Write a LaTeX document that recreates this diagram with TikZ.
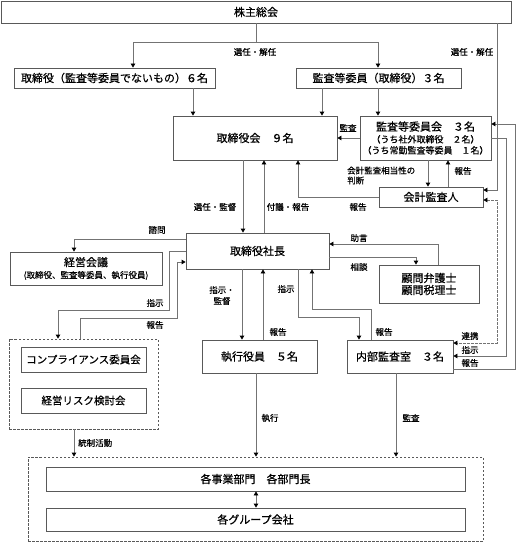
\documentclass[tikz,border=0pt]{standalone}
\usepackage{fontspec}
\newfontfamily\jp[RawFeature={embolden=0.6}]{Noto Sans CJK JP}
\usetikzlibrary{arrows.meta}
\begin{document}
\begin{tikzpicture}[x=1pt,y=-1pt,
  box/.style={draw=black!65,line width=0.8pt,inner sep=0pt,font=\jp\fontsize{11}{13}\selectfont,align=center,text=black},
  dbox/.style={draw=black!65,line width=0.8pt,dashed,dash pattern=on 2.5pt off 1.5pt,inner sep=0pt},
  lbl/.style={font=\jp\fontsize{8.5}{10}\selectfont,inner sep=0pt,text=black},
  ln/.style={draw=black!55,line width=0.8pt},
  arr/.style={ln,-{Triangle[length=4pt,width=4.5pt,color=black]}},
  darr/.style={ln,{Triangle[length=4pt,width=4.5pt,color=black]}-{Triangle[length=4pt,width=4.5pt,color=black]}},
]
\useasboundingbox (0,0) rectangle (516,543);
% boxes
\node[box,minimum width=510pt,minimum height=22pt] (kabu) at (256,12) {株主総会};
\node[box,minimum width=201pt,minimum height=20pt] (tori6) at (114.5,78) {取締役（監査等委員でないもの）６名};
\node[box,minimum width=165pt,minimum height=20pt] (kansa3) at (378.5,78) {監査等委員（取締役）３名};
\node[box,minimum width=164pt,minimum height=44pt] (torikai) at (255,138) {取締役会　９名};
\node[box,minimum width=131pt,minimum height=44pt] (iinkai) at (425.5,138) {監査等委員会　３名\\[-1pt]{\fontsize{9}{11}\selectfont （うち社外取締役　２名）}\\[-2pt]{\fontsize{9}{11}\selectfont （うち常勤監査等委員　１名）}};
\node[box,minimum width=104pt,minimum height=20pt] (kaikei) at (431,197) {会計監査人};
\node[box,minimum width=143pt,minimum height=36pt] (shacho) at (257.5,251) {取締役社長};
\node[box,minimum width=152pt,minimum height=33pt] (keiei) at (86,268.5) {経営会議\\[-1pt]{\fontsize{8.5}{10}\selectfont (取締役、監査等委員、執行役員)}};
\node[box,minimum width=100pt,minimum height=38pt] (komon) at (429,284) {顧問弁護士\\[-1pt]顧問税理士};
\node[dbox,minimum width=149pt,minimum height=90pt] (grp) at (83.5,384) {};
\node[box,minimum width=125pt,minimum height=25pt,font=\jp\fontsize{10.5}{12}\selectfont] (comp) at (83.5,359.5) {コンプライアンス委員会};
\node[box,minimum width=125pt,minimum height=25pt,font=\jp\fontsize{10.5}{12}\selectfont] (risk) at (83.5,400.5) {経営リスク検討会};
\node[box,minimum width=115pt,minimum height=33pt] (shikko) at (259.5,356.5) {執行役員　５名};
\node[box,minimum width=106pt,minimum height=33pt] (naibu) at (400,356.5) {内部監査室　３名};
\node[dbox,minimum width=455pt,minimum height=84pt] (big) at (255.5,499) {};
\node[box,minimum width=419pt,minimum height=24pt] (jigyo) at (255.5,479) {各事業部門　各部門長};
\node[box,minimum width=419pt,minimum height=23pt] (group) at (255.5,519.5) {各グループ会社};
% shareholders
\draw[ln] (kabu.south) -- ++(0,19) coordinate (kj);
\draw[arr] (kj) -| (133,0 |- tori6.north);
\draw[arr] (kj) -| (378,0 |- kansa3.north);
\node[lbl] (l1) at (255,52) {選任・解任};
\draw[arr] (497,0 |- kabu.south) |- ([yshift=7pt]kaikei.east);
\node[lbl] (l2) at (472,52) {選任・解任};
% to board
\draw[arr] (193,0 |- tori6.south) -- (193,0 |- torikai.north);
\draw[arr] (322,0 |- kansa3.south) -- (322,0 |- torikai.north);
\draw[arr] (378,0 |- kansa3.south) -- (378,0 |- iinkai.north);
\draw[arr] (iinkai.west) -- (torikai.east);
\node[lbl] (l3) at (348,128) {監査};
% audit committee <-> accounting auditor
\draw[arr] (428,0 |- iinkai.south) -- (428,0 |- kaikei.north);
\draw[arr] (448,0 |- kaikei.north) -- (448,0 |- iinkai.south);
\node[lbl,align=left,anchor=west] (l4) at (347,175.5) {会計監査相当性の\\判断};
\node[lbl] (l5) at (463,171) {報告};
\draw[arr] (kaikei.west) -| (298,0 |- torikai.south);
\node[lbl] (l6) at (358,207) {報告};
% board <-> president
\draw[arr] (243,0 |- torikai.south) -- (243,0 |- shacho.north);
\draw[arr] (264,0 |- shacho.north) -- (264,0 |- torikai.south);
\node[lbl] (l7) at (215,207) {選任・監督};
\node[lbl] (l8) at (288,207) {付議・報告};
% president left side
\draw[arr] (shacho.west |- 0,239) -| (74,0 |- keiei.north);
\node[lbl] (l9) at (157,230) {諮問};
\draw[arr] (shacho.west) -- (169,251) -- (169,310) -| (58,0 |- grp.north);
\node[lbl] (l10) at (155,303) {指示};
\draw[arr] (80,0 |- grp.north) |- (177,318) |- (shacho.west |- 0,262);
\node[lbl] (l11) at (155,325) {報告};
% advisors
\draw[arr] (shacho.east |- 0,257) -| (416,0 |- komon.north);
\node[lbl] (l12) at (359,267) {相談};
\draw[arr] (438,0 |- komon.north) |- (shacho.east |- 0,244);
\node[lbl] (l13) at (359,238) {助言};
% president <-> executives / internal audit
\draw[arr] (242,0 |- shacho.south) -- (242,0 |- shikko.north);
\node[lbl,align=center] (l14) at (222,295.5) {指示・\\[1pt]監督};
\draw[arr] (263,0 |- shikko.north) -- (263,0 |- shacho.south);
\node[lbl] (l15) at (278,332) {報告};
\draw[arr] (298,0 |- shacho.south) |- (359,317) -- (359,0 |- naibu.north);
\node[lbl] (l16) at (286,289) {指示};
\draw[arr] (371,0 |- naibu.north) |- (312,309) -- (312,0 |- shacho.south);
\node[lbl] (l17) at (384,332) {報告};
% right side loops
\draw[darr,dash pattern=on 2.5pt off 1.5pt] (kaikei.east |- 0,200) -- (497,200) |- (naibu.east |- 0,343);
\draw[arr] (iinkai.east) -- (506,138) |- (naibu.east |- 0,356);
\draw[arr] (naibu.east |- 0,369) -- (515,369) |- (iinkai.east |- 0,124);
\node[lbl] (l18) at (470,336) {連携};
\node[lbl] (l19) at (470,350) {指示};
\node[lbl] (l20) at (470,363) {報告};
% down to departments
\draw[arr] (74,0 |- grp.south) -- (74,0 |- big.north);
\node[lbl,anchor=west] (l21) at (78,443) {統制活動};
\draw[arr] (256,0 |- shikko.south) -- (256,0 |- big.north);
\node[lbl] (l22) at (270,418) {執行};
\draw[arr] (396,0 |- naibu.south) -- (396,0 |- big.north);
\node[lbl] (l23) at (411,418) {監査};
\draw[darr] (256,0 |- jigyo.south) -- (256,0 |- group.north);
\end{tikzpicture}
\end{document}
